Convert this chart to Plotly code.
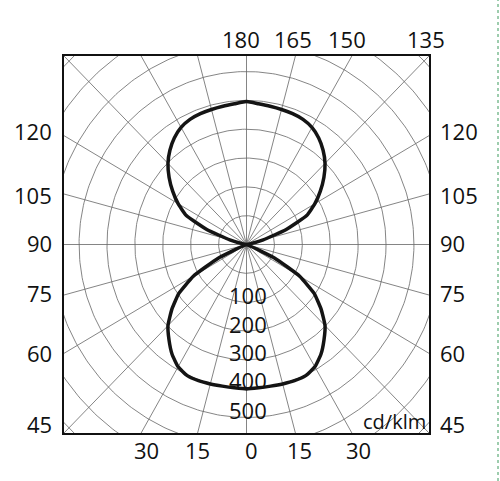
import numpy as np
import plotly.graph_objects as go

# ---------------- data (1 grid ring = 100 units) ----------------
gamma_lower = [0, 5, 10, 15, 20, 25, 30, 35, 40, 45, 50, 55, 60, 65, 70, 75, 80, 85, 90]
I_lower = [501, 499, 499, 501, 503, 502, 490, 465, 432, 398, 349, 296, 220, 112, 10, 0, 0, 0, 0]

gamma_upper = [90, 95, 100, 105, 110, 115, 120, 125, 130, 135, 140, 145, 150, 155, 160, 165, 170, 175, 180]
I_upper = [0, 0, 12, 62, 150, 238, 283, 323, 362, 398, 427, 451, 469, 479, 483, 485, 487, 490, 496]

ring_values = [100, 200, 300, 400, 500, 600, 700, 800, 900, 1000]
spoke_angles = list(range(0, 360, 15))
radial_labels = ["100", "200", "300", "400", "500"]
top_labels = ["180", "165", "150", "135"]
side_labels = ["120", "105", "90", "75", "60", "45"]
bottom_labels = ["30", "15", "0", "15", "30"]
unit_label = "cd/klm"

# ---------------- geometry ----------------
W, H = 500, 481
BOX_L, BOX_R, BOX_T, BOX_B = 64, 429, 56, 433
R = 654  # half-range of both axes (data units)


def px(x):
    return (x - BOX_L) / (BOX_R - BOX_L)


def py(y):
    return (BOX_B - y) / (BOX_B - BOX_T)


def polar_xy(gammas, vals, side):
    g = np.radians(np.asarray(gammas, dtype=float))
    v = np.asarray(vals, dtype=float)
    return side * v * np.sin(g), -v * np.cos(g)


fig = go.Figure()

GRID = "#666666"
# concentric rings
t = np.linspace(0, 2 * np.pi, 361)
for rv in ring_values:
    fig.add_trace(go.Scatter(x=rv * np.cos(t), y=rv * np.sin(t), mode="lines",
                             line=dict(color=GRID, width=0.8), hoverinfo="skip", showlegend=False))
# spokes every 15 degrees
for a in spoke_angles:
    ar = np.radians(a)
    fig.add_trace(go.Scatter(x=[0, 1200 * np.sin(ar)], y=[0, -1200 * np.cos(ar)], mode="lines",
                             line=dict(color=GRID, width=0.8), hoverinfo="skip", showlegend=False))

# luminous intensity curve, both half-planes:
# right-lower (90->0), left-lower (0->90), left-upper (90->180), right-upper (180->90)
xr_lo, yr_lo = polar_xy(gamma_lower, I_lower, 1)
xl_lo, yl_lo = polar_xy(gamma_lower, I_lower, -1)
xl_up, yl_up = polar_xy(gamma_upper, I_upper, -1)
xr_up, yr_up = polar_xy(gamma_upper, I_upper, 1)
x_path = np.concatenate([xr_lo[::-1], xl_lo[1:], xl_up[1:], xr_up[::-1][1:]])
y_path = np.concatenate([yr_lo[::-1], yl_lo[1:], yl_up[1:], yr_up[::-1][1:]])
fig.add_trace(go.Scatter(x=x_path, y=y_path, mode="lines",
                         line=dict(color="#141414", width=3.5, shape="spline", smoothing=0.4),
                         hoverinfo="skip", showlegend=False))

FONT = dict(family="Open Sans, Noto Sans, sans-serif", size=22, color="#111111")
ann = []


def add(text, x, y, xanchor="center", size=None):
    f = dict(FONT)
    if size:
        f["size"] = size
    ann.append(dict(text=text, x=px(x), y=py(y), xref="paper", yref="paper", showarrow=False,
                    xanchor=xanchor, yanchor="middle", font=f))


for txt, x in zip(top_labels, [241, 293, 347, 426]):
    add(txt, x, 39)
for txt, y in zip(side_labels, [131, 195, 243, 292.5, 353, 424]):
    add(txt, 54, y, "right")
    add(txt, 438, y, "left")
for txt, x in zip(bottom_labels, [146, 197.5, 251, 299.5, 358]):
    add(txt, x, 450)
for txt, y in zip(radial_labels, [295, 324, 352, 380, 410]):
    add(txt, 247.5, y)
add(unit_label, 428, 421, "right", size=20)

axis = dict(range=[-R, R], showgrid=False, zeroline=False, showticklabels=False, ticks="",
            showline=True, mirror=True, linecolor="#111111", linewidth=1.5, fixedrange=True)

fig.update_layout(
    width=W, height=H,
    margin=dict(l=BOX_L, r=W - BOX_R, t=BOX_T, b=H - BOX_B),
    paper_bgcolor="white", plot_bgcolor="white",
    xaxis=axis, yaxis=axis,
    annotations=ann,
    shapes=[dict(type="line", xref="paper", yref="paper", x0=px(498), x1=px(498), y0=py(481), y1=py(0),
                 line=dict(color="#3c9a5c", width=1, dash="dot"))],
)

fig.write_html("out.html")
